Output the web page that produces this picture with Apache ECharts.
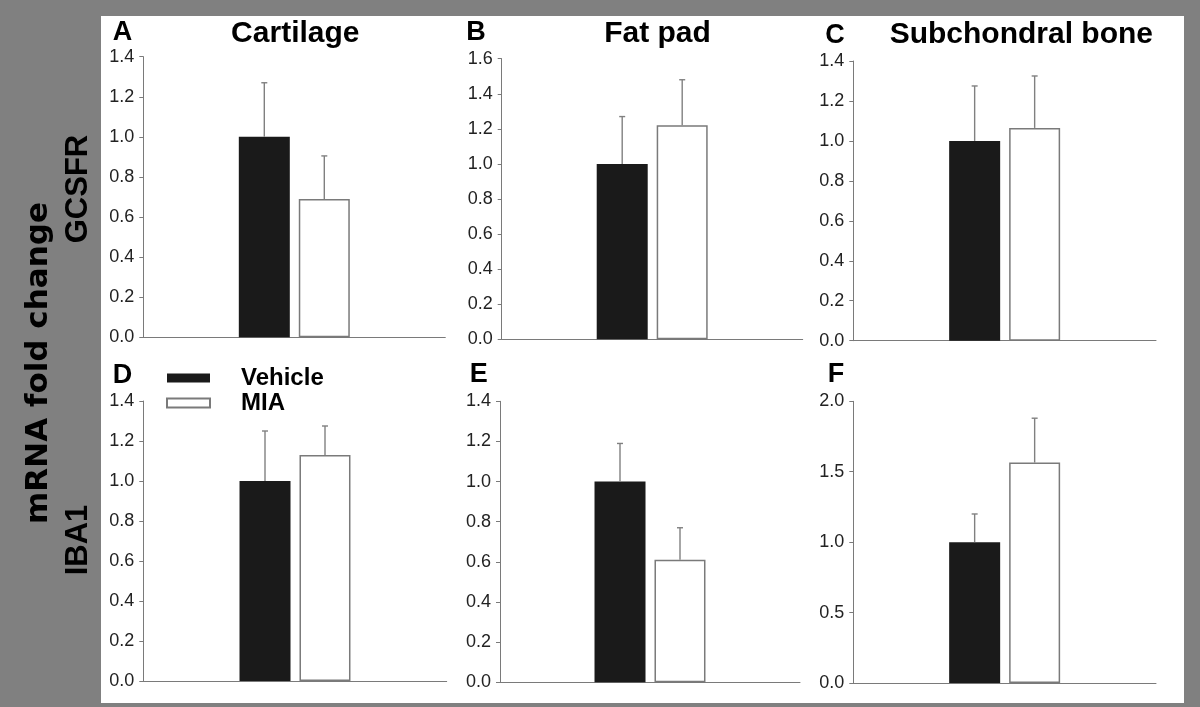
<!DOCTYPE html>
<html>
<head>
<meta charset="utf-8">
<script src="https://cdn.jsdelivr.net/npm/echarts@6/dist/echarts.min.js"></script>
<style>
  html, body { margin: 0; padding: 0; background: #808080; }
  #chart { width: 1200px; height: 707px; }
</style>
</head>
<body>
<div id="chart"></div>
<script>
// ---------------- DATA ----------------
const panelLetters = ['A', 'B', 'C', 'D', 'E', 'F'];
const tissueTitles = ['Cartilage', 'Fat pad', 'Subchondral bone'];
const geneLabels = ['GCSFR', 'IBA1'];
const yAxisTitle = 'mRNA fold change';
const groupNames = ['Vehicle', 'MIA'];
const vehicleMean = [1.0, 1.0, 1.0, 1.0, 1.0, 1.0];
const vehicleSEM  = [0.27, 0.27, 0.275, 0.25, 0.19, 0.20];
const miaMean     = [0.69, 1.22, 1.065, 1.13, 0.61, 1.565];
const miaSEM      = [0.215, 0.26, 0.26, 0.145, 0.16, 0.315];
const yMax        = [1.4, 1.6, 1.4, 1.4, 1.4, 2.0];
const yStep       = [0.2, 0.2, 0.2, 0.2, 0.2, 0.5];

// ---------------- LAYOUT ----------------
const gridBoxes = [
  { left: 143.3, top: 56.7, width: 302,   height: 280.6 },
  { left: 501.7, top: 58.7, width: 301,   height: 280.6 },
  { left: 853.3, top: 61,   width: 302.7, height: 279.7 },
  { left: 143.3, top: 401,  width: 303.4, height: 280 },
  { left: 500,   top: 401.3, width: 300,  height: 281 },
  { left: 853.3, top: 401.3, width: 302.7, height: 281.7 }
];
const letterPos = [[122.5, 32.5], [476, 32.5], [835, 35.5], [122.5, 376], [478.7, 374.5], [836, 375]];
const titlePos = [[295.3, 33.5], [657.5, 33.5], [1021.3, 34.5]];
const BAR_W = 51, BAR_GAP_PX = 9;
const AXIS_COLOR = '#7a7a7a';
const ERR_COLOR = '#808080';
const SANS = '"Liberation Sans", Arial, sans-serif';

const chart = echarts.init(document.getElementById('chart'), null, { renderer: 'canvas' });

const grid = [], xAxis = [], yAxis = [], series = [];
for (let i = 0; i < 6; i++) {
  grid.push(Object.assign({ containLabel: false }, gridBoxes[i]));
  xAxis.push({
    type: 'category', gridIndex: i, data: [''],
    axisLine: { lineStyle: { color: AXIS_COLOR, width: 1 } },
    axisTick: { show: false }, axisLabel: { show: false }, splitLine: { show: false }
  });
  yAxis.push({
    type: 'value', gridIndex: i, min: 0, max: yMax[i], interval: yStep[i],
    axisLine: { show: true, lineStyle: { color: AXIS_COLOR, width: 1 } },
    axisTick: { show: true, inside: false, length: 4, lineStyle: { color: AXIS_COLOR } },
    axisLabel: { color: '#222222', fontSize: 18, fontFamily: SANS, margin: 9,
      formatter: v => v.toFixed(1) },
    splitLine: { show: false }
  });
  series.push({
    name: groupNames[0], type: 'bar', xAxisIndex: i, yAxisIndex: i,
    data: [vehicleMean[i]], barWidth: BAR_W, barGap: (BAR_GAP_PX / BAR_W * 100).toFixed(1) + '%',
    itemStyle: { color: '#1a1a1a' }, silent: true
  });
  series.push({
    name: groupNames[1], type: 'bar', xAxisIndex: i, yAxisIndex: i,
    data: [miaMean[i]], barWidth: BAR_W,
    itemStyle: { color: '#ffffff', borderColor: '#7a7a7a', borderWidth: 1.5 }, silent: true
  });
  series.push({
    type: 'custom', xAxisIndex: i, yAxisIndex: i, silent: true, z: 5,
    data: [
      [0, vehicleMean[i], vehicleMean[i] + vehicleSEM[i], -1],
      [0, miaMean[i], miaMean[i] + miaSEM[i], 1]
    ],
    renderItem: function (params, api) {
      const base = api.coord([api.value(0), api.value(1)]);
      const top = api.coord([api.value(0), api.value(2)]);
      const x = base[0] + api.value(3) * (BAR_W + BAR_GAP_PX) / 2;
      const st = { stroke: ERR_COLOR, lineWidth: 1.4 };
      return {
        type: 'group',
        children: [
          { type: 'line', shape: { x1: x, y1: base[1], x2: x, y2: top[1] }, style: st },
          { type: 'line', shape: { x1: x - 3, y1: top[1], x2: x + 3, y2: top[1] }, style: st }
        ]
      };
    }
  });
}

const graphic = [
  { type: 'rect', shape: { x: 101, y: 16, width: 1083, height: 687 }, style: { fill: '#ffffff' }, z: -10, silent: true }
];
panelLetters.forEach((t, i) => {
  graphic.push({ type: 'text', x: letterPos[i][0], y: letterPos[i][1],
    style: { text: t, fill: '#000', font: 'bold 27px ' + SANS, textAlign: 'center', textVerticalAlign: 'middle' } });
});
tissueTitles.forEach((t, i) => {
  graphic.push({ type: 'text', x: titlePos[i][0], y: titlePos[i][1],
    style: { text: t, fill: '#000', font: 'bold 30px ' + SANS, textAlign: 'center', textVerticalAlign: 'middle' } });
});
graphic.push({ type: 'text', x: 39, y: 363, rotation: Math.PI / 2,
  style: { text: yAxisTitle, fill: '#000', font: 'bold 31px "DejaVu Sans", sans-serif', textAlign: 'center', textVerticalAlign: 'middle' } });
graphic.push({ type: 'text', x: 78.5, y: 189, rotation: Math.PI / 2,
  style: { text: geneLabels[0], fill: '#000', font: 'bold 31px ' + SANS, textAlign: 'center', textVerticalAlign: 'middle' } });
graphic.push({ type: 'text', x: 78.5, y: 540, rotation: Math.PI / 2,
  style: { text: geneLabels[1], fill: '#000', font: 'bold 31px ' + SANS, textAlign: 'center', textVerticalAlign: 'middle' } });

chart.setOption({
  backgroundColor: '#808080',
  animation: false,
  grid, xAxis, yAxis, series, graphic,
  legend: {
    data: groupNames, orient: 'vertical', left: 166, top: 366, padding: 0,
    itemWidth: 43, itemHeight: 9, itemGap: 1, icon: 'rect', selectedMode: false,
    textStyle: { fontSize: 24, fontWeight: 'bold', fontFamily: SANS, color: '#000', lineHeight: 22, padding: [0, 0, 0, 26] }
  }
});
</script>
</body>
</html>
